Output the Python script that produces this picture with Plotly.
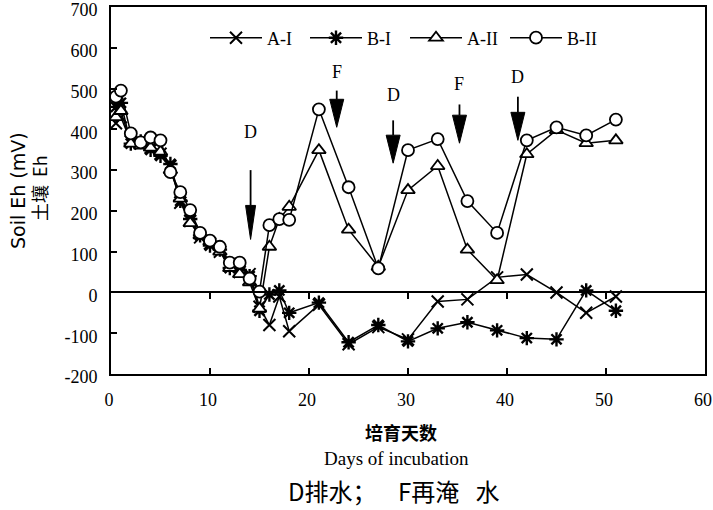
import plotly.graph_objects as go

# ---------------- data ----------------
days_early = [0.5, 1, 2, 3, 4, 5, 6, 7, 8, 9, 10, 11, 12, 13, 14, 15]
days_late = [16, 17, 18, 21, 24, 27, 30, 33, 36, 39, 42, 45, 48, 51]
days = days_early + days_late

a1 = [415, 430, 370, 365, 355, 340, 310, 220, 175, 135, 120, 100, 70, 50, 45, -35,
      -80, -10, -95, -30, -127, -85, -115, -22, -17, 37, 44, 0, -50, -10]
b1 = [455, 465, 365, 370, 350, 335, 315, 225, 180, 140, 115, 105, 60, 55, 40, -45,
      -5, 5, -50, -25, -122, -80, -120, -88, -73, -93, -112, -115, 5, -45]
a2 = [430, 445, 365, 360, 355, 345, 300, 230, 170, 140, 125, 100, 60, 45, 25, -40,
      112, 180, 210, 349, 154, 63, 251, 310, 105, 30, 339, 398, 366, 373]
b2 = [480, 495, 390, 368, 380, 373, 295, 246, 202, 146, 127, 112, 73, 73, 34, 2,
      165, 180, 178, 449, 258, 59, 349, 376, 224, 146, 373, 405, 385, 424]

series_names = ["A-I", "B-I", "A-II", "B-II"]
series_values = [a1, b1, a2, b2]

# events: label, day, arrow tail (mV), arrow tip (mV), label position (mV)
ev_labels = ["D", "F", "D", "F", "D"]
ev_days = [14.1, 22.8, 28.5, 35.2, 41.1]
ev_tail = [300, 495, 422, 461, 480]
ev_tip = [130, 405, 317, 366, 373]
ev_text_y = [393, 541, 483, 510, 529]

x_ticks = [0, 10, 20, 30, 40, 50, 60]
y_ticks = [-200, -100, 0, 100, 200, 300, 400, 500, 600, 700]
y_tick_text = ["-200", "-100", "0", "100", "200", "300", "400", "500", "600", "700"]
x_range = [0, 60]
y_range = [-200, 700]

# ---------------- layout constants ----------------
W, H = 713, 510
ML, MR, MT, MB = 111, 8, 7, 136
PW = W - ML - MR
PH = H - MT - MB
px_x = PW / (x_range[1] - x_range[0])   # pixels per day
px_y = PH / (y_range[1] - y_range[0])   # pixels per mV


def paper_x(sx):
    return (sx - ML) / PW


def paper_y(sy):
    return 1 - (sy - MT) / PH


serif = "Liberation Serif"
sans = "DejaVu Sans"
cjk = "Noto Sans CJK SC"

styles = {
    "A-I": dict(symbol="x-thin-open", size=12, color="black", line=dict(width=2, color="black")),
    "B-I": dict(symbol="asterisk-open", size=12, color="black", line=dict(width=2.4, color="black")),
    "A-II": dict(symbol="triangle-up", size=12, color="white", line=dict(width=1.8, color="black")),
    "B-II": dict(symbol="circle", size=12, color="white", line=dict(width=1.8, color="black")),
}

fig = go.Figure()
for name, vals in zip(series_names, series_values):
    fig.add_trace(go.Scatter(
        x=days, y=vals, name=name, mode="lines+markers",
        line=dict(color="black", width=1.5),
        marker=styles[name],
    ))

# secondary x-axis drawn along y = 0 (tick marks on the zero line)
fig.add_trace(go.Scatter(x=[None], y=[None], xaxis="x2", yaxis="y",
                         showlegend=False, hoverinfo="skip"))

shapes = []
annotations = []
head_w_px, head_l_px = 14, 28
for i, (lab, d, yt, yp, ty) in enumerate(zip(ev_labels, ev_days, ev_tail, ev_tip, ev_text_y)):
    hw = (10 if i == 0 else head_w_px) / px_x / 2
    hl = (34 if i == 0 else head_l_px) / px_y
    base = yp + hl
    shapes.append(dict(type="line", xref="x", yref="y", x0=d, x1=d, y0=yt, y1=base,
                       line=dict(color="black", width=1.8)))
    shapes.append(dict(type="path", xref="x", yref="y",
                       path=f"M {d - hw},{base} L {d + hw},{base} L {d},{yp} Z",
                       fillcolor="black", line=dict(color="black", width=1)))
    annotations.append(dict(x=d, y=ty, xref="x", yref="y", text=lab, showarrow=False,
                            xanchor="center", yanchor="middle",
                            font=dict(family=serif, size=18, color="black")))

common = dict(xref="paper", yref="paper", showarrow=False, xanchor="center", yanchor="middle")
annotations += [
    dict(x=paper_x(18), y=paper_y(191), text="Soil Eh (mV)", textangle=-90,
         font=dict(family=sans, size=19, color="black"), **common),
    dict(x=paper_x(39), y=paper_y(188), text="土壤  Eh", textangle=-90,
         font=dict(family=cjk, size=18, color="black"), **common),
    dict(x=paper_x(401), y=paper_y(432), text="<b>培育天数</b>",
         font=dict(family=cjk, size=18, color="black"), **common),
    dict(x=paper_x(396), y=paper_y(458), text="Days of incubation",
         font=dict(family=serif, size=19, color="black"), **common),
    dict(x=paper_x(393), y=paper_y(490),
         text="D排水；&nbsp;&nbsp;&nbsp;&nbsp;F再淹&nbsp;&nbsp;&nbsp;水",
         font=dict(family=cjk, size=24, color="black"), **common),
]

fig.update_layout(
    width=W, height=H,
    margin=dict(l=ML, r=MR, t=MT, b=MB, autoexpand=False),
    paper_bgcolor="white", plot_bgcolor="white",
    showlegend=True,
    legend=dict(orientation="h", x=paper_x(205), y=paper_y(38),
                xanchor="left", yanchor="middle", bgcolor="rgba(0,0,0,0)",
                font=dict(family=serif, size=18, color="black"),
                itemwidth=52, tracegroupgap=0, entrywidth=33, entrywidthmode="pixels"),
    xaxis=dict(range=x_range, tickvals=x_ticks, ticks="inside", ticklen=6,
               tickwidth=1.5, tickcolor="black", showline=True, linecolor="black",
               linewidth=2, mirror=True, showgrid=False, zeroline=False, automargin=False,
               ticklabelstandoff=8, ticklabelshift=-2, ticklabeloverflow="allow",
               tickfont=dict(family=serif, size=18, color="black")),
    xaxis2=dict(range=x_range, tickvals=x_ticks[1:-1], ticks="outside", ticklen=6,
                tickwidth=1.5, tickcolor="black", showline=True, linecolor="black",
                linewidth=1.5, showgrid=False, zeroline=False, showticklabels=False,
                overlaying="x", anchor="free", automargin=False,
                position=(0 - y_range[0]) / (y_range[1] - y_range[0])),
    yaxis=dict(range=y_range, tickvals=y_ticks, ticktext=y_tick_text, ticks="inside", ticklen=6,
               tickwidth=1.5, tickcolor="black", showline=True, linecolor="black",
               linewidth=2, mirror=True, showgrid=False, zeroline=False, automargin=False,
               ticklabelstandoff=8, ticklabelshift=3, ticklabeloverflow="allow",
               tickfont=dict(family=serif, size=18, color="black")),
    shapes=shapes,
    annotations=annotations,
)

fig.write_html("out.html", config={"displayModeBar": False},
               post_script="document.body.style.margin='0';")
